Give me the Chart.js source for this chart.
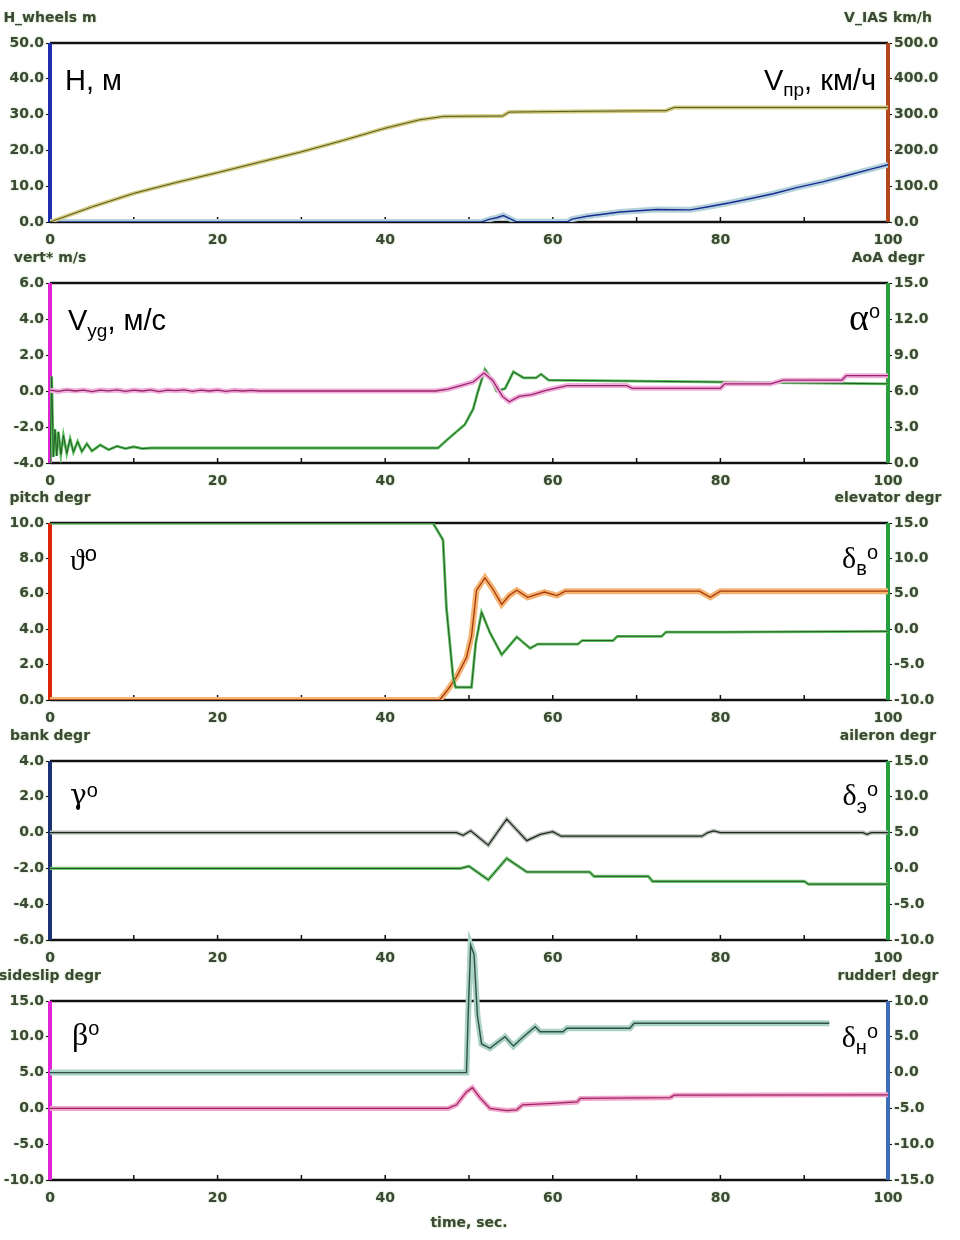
<!DOCTYPE html>
<html>
<head>
<meta charset="utf-8">
<script src="https://cdn.jsdelivr.net/npm/chart.js@4.4.1/dist/chart.umd.min.js"></script>
<style>
  html, body { margin: 0; padding: 0; background: #fff; width: 960px; height: 1240px; overflow: hidden; position: relative; }
  canvas { position: absolute; left: 0; }
</style>
</head>
<body>
<script>
// ---- Flight record, time in seconds ----

// Panel 1: wheel height (m) and indicated airspeed (km/h)
const tHeight = [0, 51.5, 52.5, 53.3, 54.1, 55, 55.6, 61.8, 62.3, 64.1, 68, 72.4, 76.4, 78.4, 81, 83.5, 86.3, 89.1, 92.2, 95.1, 98.2, 100];
const heightWheels = [0, 0, 0.8, 1.2, 1.8, 0.8, 0.1, 0.1, 0.8, 1.6, 2.8, 3.5, 3.4, 4.2, 5.3, 6.5, 7.9, 9.6, 11.2, 13.0, 14.9, 16.0];
const tIas = [0, 5, 10, 15, 20, 25, 30, 35, 40, 44, 47, 54, 54.8, 62, 73.5, 74.5, 100];
const iasKmh = [0, 42, 80, 110, 138, 167, 196, 228, 262, 285, 295, 296, 307, 309, 311, 320, 320];

// Panel 2: vertical speed (m/s) and angle of attack (deg)
const tVert = [0, 1, 2, 3, 4, 5, 6, 7, 8, 9, 10, 11, 12, 13, 14, 15, 16, 17, 18, 19, 20, 21, 22, 23, 24, 25, 26,
               46, 47.5, 49, 50.5, 51.8, 52.8, 54, 54.8, 56, 57.5, 59.3, 61.7, 68.8, 69.5, 80, 80.5, 86, 87.5, 94.5, 95, 100];
const vertSpeed = [0.05, -0.02, 0.06, 0, 0.05, -0.03, 0.05, 0.01, 0.06, -0.02, 0.05, 0, 0.06, -0.03, 0.05, 0.02, 0.06, -0.02, 0.05, 0, 0.05, -0.02, 0.04, 0, 0.03, 0, 0,
                   0, 0.1, 0.3, 0.5, 1.0, 0.6, -0.3, -0.6, -0.3, -0.2, 0.05, 0.3, 0.3, 0.15, 0.15, 0.4, 0.4, 0.6, 0.6, 0.85, 0.85];
const tAoa = [0, 0.2, 0.4, 0.6, 0.8, 1.0, 1.3, 1.6, 2.0, 2.4, 2.8, 3.3, 3.8, 4.4, 5, 6, 7, 8, 9, 10, 11, 12,
              46.3, 47.5, 48.5, 49.5, 50.5, 51, 51.9, 52.5, 53.3, 54.3, 55.3, 56.5, 58, 58.6, 59.5, 100];
const aoaDeg = [-0.3, 7.2, 0.5, 2.8, 0.6, 2.6, 0.7, 2.3, 0.8, 2.0, 0.9, 1.8, 0.95, 1.6, 1.0, 1.5, 1.1, 1.4, 1.2, 1.35, 1.2, 1.25,
                1.25, 2.0, 2.6, 3.2, 4.5, 5.8, 7.8, 7.2, 6.0, 6.2, 7.6, 7.1, 7.1, 7.4, 6.9, 6.6];

// Panel 3: pitch (deg) and elevator (deg)
const tPitch = [0, 46.5, 47.5, 48.5, 49.7, 50.3, 50.9, 51.9, 52.8, 53.9, 54.8, 55.7, 57, 59, 60.5, 61.5, 77.5, 78.8, 80, 100];
const pitchDeg = [0, 0, 0.6, 1.3, 2.4, 3.6, 6.2, 6.9, 6.3, 5.4, 5.9, 6.2, 5.8, 6.1, 5.9, 6.15, 6.15, 5.8, 6.15, 6.15];
const tElev = [0, 45.7, 46.9, 47.3, 48.1, 48.4, 50.3, 50.8, 51.5, 52.5, 53.9, 55.7, 57.3, 58.2, 63, 63.5, 67.2, 67.7, 73, 73.5, 80, 100];
const elevatorDeg = [15, 15, 12.6, 3.1, -6.75, -8.2, -8.2, -2, 2.4, -0.5, -3.6, -1.1, -2.7, -2.1, -2.1, -1.6, -1.6, -1.0, -1.0, -0.4, -0.4, -0.3];

// Panel 4: bank (deg) and aileron (deg)
const tBank = [0, 48.5, 49.3, 50.2, 52.3, 54.5, 56.9, 58.5, 60, 61, 77.8, 78.5, 79.2, 80, 97, 97.5, 98, 100];
const bankDeg = [0, 0, -0.15, 0.1, -0.7, 0.75, -0.45, -0.1, 0.05, -0.2, -0.2, 0, 0.1, 0, 0, -0.1, 0, 0];
const tAil = [0, 49, 50, 52.3, 54.5, 56.9, 64.4, 64.9, 71.4, 71.9, 90, 90.5, 100];
const aileronDeg = [0, 0, 0.3, -1.6, 1.4, -0.5, -0.5, -1.1, -1.1, -1.8, -1.8, -2.2, -2.2];

// Panel 5: sideslip (deg) and rudder (deg)
const tSlip = [0, 47.5, 48.5, 49.7, 50.4, 51.3, 52.5, 54.5, 55.7, 56.4, 60, 62.9, 63.3, 74, 74.5, 100];
const sideslipDeg = [0, 0, 0.5, 2.3, 2.9, 1.5, 0.0, -0.3, -0.2, 0.5, 0.7, 0.9, 1.4, 1.5, 1.85, 1.9];
const tRud = [0, 49.7, 49.9, 50.2, 50.6, 51.0, 51.5, 52.5, 53.5, 54.3, 55.3, 56.5, 57.9, 58.5, 59.3, 61.2, 61.7, 69.2, 69.7, 93];
const rudderDeg = [0, 0, 8, 17.8, 16.5, 8, 4, 3.4, 4.3, 5.0, 3.7, 5, 6.4, 5.7, 5.7, 5.7, 6.2, 6.2, 6.9, 6.9];

// Labelled time ticks (minor marks every 10 s)
const timeTickLabels = [0, 20, 40, 60, 80, 100];

// ---- Drawing ----
const SANS = "'Liberation Sans', Arial, sans-serif";
const SERIF = "'Liberation Serif', 'DejaVu Serif', serif";
const SERIF_ALT = "'DejaVu Serif', serif";
const TICK_FONT = { family: "'DejaVu Sans', sans-serif", size: 14, weight: 'bold' };
const TEXT_COLOR = '#3c4837';
const PAD_TOP = 70, PAD_BOTTOM = 32, X_AXIS_H = 28;

// A trace is a light wide halo with a thin dark core on top of it.
function line(t, v, axis, halo, core, hw, cw, extra) {
  const data = t.map((x, i) => ({ x: x, y: v[i] }));
  return [
    Object.assign({ data, yAxisID: axis, borderColor: halo, borderWidth: hw, pointRadius: 0 }, extra || {}),
    Object.assign({ data, yAxisID: axis, borderColor: core, borderWidth: cw, pointRadius: 0 }, extra || {})
  ];
}

function yAxis(pos, min, max, step, width) {
  return {
    type: 'linear', position: pos, min, max,
    ticks: { stepSize: step, callback: v => Number(v).toFixed(1), font: TICK_FONT, color: TEXT_COLOR, padding: 2 },
    grid: { display: true, drawOnChartArea: false, drawTicks: true, tickLength: 4, color: '#111', lineWidth: 1 },
    border: { display: false },
    afterFit: s => { s.width = width; }
  };
}

function drawRich(c, parts, x, y, align) {
  let w = 0;
  parts.forEach(p => { c.font = p[1]; w += c.measureText(p[0]).width; });
  let cx = align === 'right' ? x - w : x;
  parts.forEach(p => { c.font = p[1]; c.fillText(p[0], cx, y + p[2]); cx += c.measureText(p[0]).width; });
}

function decor(p) {
  return {
    id: 'panelDecor',
    beforeDraw(chart) {
      const c = chart.ctx;
      c.save();
      c.shadowColor = 'rgba(150,200,120,0.85)';
      c.shadowBlur = 2;
    },
    beforeDatasetsDraw(chart) {
      const c = chart.ctx;
      c.restore();
      const a = chart.chartArea;
      c.save();
      // frame: top edge and time axis
      c.strokeStyle = 'rgba(150,150,150,0.55)';
      c.lineWidth = 4;
      c.beginPath();
      c.moveTo(a.left, a.top); c.lineTo(a.right, a.top);
      c.moveTo(a.left, a.bottom); c.lineTo(a.right, a.bottom);
      c.stroke();
      c.strokeStyle = '#111';
      c.lineWidth = 2;
      c.beginPath();
      c.moveTo(a.left, a.top); c.lineTo(a.right, a.top);
      c.moveTo(a.left, a.bottom); c.lineTo(a.right, a.bottom);
      c.stroke();
      // minor time marks pointing into the plot
      const xs = chart.scales.x;
      c.lineWidth = 1.5;
      c.beginPath();
      xs.ticks.forEach(t => {
        const px = xs.getPixelForValue(t.value);
        c.moveTo(px, a.bottom); c.lineTo(px, a.bottom - 5);
      });
      c.stroke();
      // coloured axis bars
      c.fillStyle = p.leftColor;
      c.fillRect(a.left - 2, a.top, 4, a.bottom - a.top);
      c.fillStyle = p.rightColor;
      c.fillRect(a.right - 2, a.top, 4, a.bottom - a.top);
      c.restore();
    },
    afterDraw(chart) {
      const c = chart.ctx;
      const a = chart.chartArea;
      c.save();
      // axis titles
      c.font = `bold 14px 'DejaVu Sans', sans-serif`;
      c.fillStyle = TEXT_COLOR;
      c.shadowColor = 'rgba(150,200,120,0.85)';
      c.shadowBlur = 2;
      c.textBaseline = 'middle';
      c.textAlign = 'center';
      c.fillText(p.leftTitle, a.left, a.top - 25);
      c.fillText(p.rightTitle, a.right, a.top - 25);
      if (p.xTitle) c.fillText(p.xTitle, (a.left + a.right) / 2, a.bottom + 43);
      c.restore();
      // quantity symbols inside the plot
      c.save();
      c.fillStyle = '#000';
      c.textBaseline = 'alphabetic';
      c.textAlign = 'left';
      drawRich(c, p.leftSym, a.left + p.leftSymPos[0], a.top + p.leftSymPos[1], 'left');
      drawRich(c, p.rightSym, a.right - p.rightSymPos[0], a.top + p.rightSymPos[1], 'right');
      c.restore();
    }
  };
}

function panel(p) {
  const h = p.bottom - p.top;
  const cv = document.createElement('canvas');
  const H = PAD_TOP + h + PAD_BOTTOM + X_AXIS_H;
  cv.width = 960; cv.height = H;
  cv.style.top = (p.top - PAD_TOP) + 'px';
  cv.style.width = '960px'; cv.style.height = H + 'px';
  document.body.appendChild(cv);
  // Chart.js paints the first dataset last, so the list is reversed
  // to keep each core above its halo and the later traces underneath.
  const datasets = p.datasets.slice().reverse();
  new Chart(cv.getContext('2d'), {
    type: 'line',
    data: { datasets },
    options: {
      responsive: false,
      animation: false,
      devicePixelRatio: 1,
      layout: { padding: { top: PAD_TOP, bottom: PAD_BOTTOM, left: 0, right: 0 } },
      plugins: { legend: { display: false }, tooltip: { enabled: false } },
      elements: { line: { tension: 0 }, point: { radius: 0 } },
      scales: {
        x: {
          type: 'linear', min: 0, max: 100,
          ticks: {
            stepSize: 10, autoSkip: false, maxRotation: 0, padding: 2,
            callback: v => timeTickLabels.includes(v) ? String(v) : '',
            font: TICK_FONT, color: TEXT_COLOR
          },
          grid: { display: false },
          border: { display: false },
          afterFit: s => { s.height = X_AXIS_H; }
        },
        yL: yAxis('left', p.left[0], p.left[1], p.left[2], 50),
        yR: yAxis('right', p.right[0], p.right[1], p.right[2], 72)
      }
    },
    plugins: [decor(p)]
  });
}

const S = (sz) => `${sz}px ${SANS}`;
const G = (sz) => `${sz}px ${SERIF}`;
const G2 = (sz) => `${sz}px ${SERIF_ALT}`;

panel({
  top: 43, bottom: 222,
  left: [0, 50, 10], right: [0, 500, 100],
  leftColor: '#1f2fb0', rightColor: '#b4461f',
  leftTitle: 'H_wheels m', rightTitle: 'V_IAS km/h',
  leftSym: [['H, м', S(29), 0]], leftSymPos: [15, 47],
  rightSym: [['V', S(29), 0], ['пр', S(19), 6], [', км/ч', S(29), 0]], rightSymPos: [12, 47],
  datasets: [
    ...line(tHeight, heightWheels, 'yL', '#b4d2dc', '#1a2a90', 6, 1.4),
    ...line(tIas, iasKmh, 'yR', '#d2c97c', '#545a24', 4, 1)
  ]
});

panel({
  top: 283, bottom: 463,
  left: [-4, 6, 2], right: [0, 15, 3],
  leftColor: '#e024d6', rightColor: '#2a9e3e',
  leftTitle: 'vert* m/s', rightTitle: 'AoA degr',
  leftSym: [['V', S(29), 0], ['yg', S(19), 7], [', м/с', S(29), 0]], leftSymPos: [18, 47],
  rightSym: [['α', G(38), 0], ['o', S(20), -12]], rightSymPos: [8, 47],
  datasets: [
    ...line(tAoa, aoaDeg, 'yR', '#5cc05c', '#245a2a', 2.8, 1),
    ...line(tVert, vertSpeed, 'yL', '#efaedc', '#9a2468', 5, 1.3)
  ]
});

panel({
  top: 523, bottom: 700,
  left: [0, 10, 2], right: [-10, 15, 5],
  leftColor: '#e02408', rightColor: '#22a040',
  leftTitle: 'pitch degr', rightTitle: 'elevator degr',
  leftSym: [['ϑ', G(30), 0], ['o', S(22), -9]], leftSymPos: [20, 47],
  rightSym: [['δ', G(30), 0], ['в', S(20), 7], ['o', S(20), -9]], rightSymPos: [10, 45],
  datasets: [
    ...line(tPitch, pitchDeg, 'yL', '#f3b474', '#a8380c', 6, 1.3),
    ...line(tElev, elevatorDeg, 'yR', '#5cc05c', '#2a5a2a', 2.8, 1)
  ]
});

panel({
  top: 761, bottom: 940,
  left: [-6, 4, 2], right: [-10, 15, 5],
  leftColor: '#1b3274', rightColor: '#22a040',
  leftTitle: 'bank degr', rightTitle: 'aileron degr',
  leftSym: [['γ', G2(28), 0], ['o', S(20), -7]], leftSymPos: [20, 43],
  rightSym: [['δ', G(30), 0], ['э', S(20), 8], ['o', S(20), -9]], rightSymPos: [10, 44],
  datasets: [
    ...line(tBank, bankDeg, 'yL', '#b4bcb4', '#202820', 4, 1.2),
    ...line(tAil, aileronDeg, 'yR', '#6cc86c', '#24462a', 3.2, 1)
  ]
});

panel({
  top: 1001, bottom: 1180,
  left: [-10, 15, 5], right: [-15, 10, 5],
  leftColor: '#e024d6', rightColor: '#3d6cb8',
  leftTitle: 'sideslip degr', rightTitle: 'rudder! degr',
  xTitle: 'time, sec.',
  leftSym: [['β', G(32), 0], ['o', S(20), -10]], leftSymPos: [22, 44],
  rightSym: [['δ', G(30), 0], ['н', S(20), 7], ['o', S(20), -9]], rightSymPos: [10, 46],
  datasets: [
    ...line(tRud, rudderDeg, 'yR', '#abd3c4', '#2f5048', 6, 1.4, { clip: false }),
    ...line(tSlip, sideslipDeg, 'yL', '#f0a6cc', '#a02462', 5, 1.3)
  ]
});
</script>
</body>
</html>
